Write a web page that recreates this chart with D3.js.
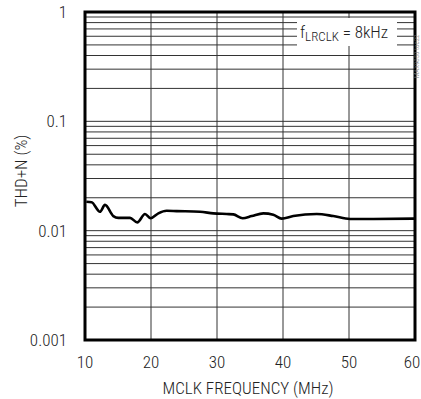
<!DOCTYPE html>
<html><head><meta charset="utf-8">
<script src="https://cdn.jsdelivr.net/npm/d3@7"></script>
<style>
html,body{margin:0;padding:0;background:#fff;}
svg{display:block;}
text{font-family:"Roboto Condensed","Liberation Sans Narrow","Arial Narrow",Roboto,sans-serif;font-stretch:condensed;font-weight:300;fill:#222;}
</style></head>
<body><svg id="c" width="421" height="399"></svg>
<script>
const freqMHz = [10.2, 11.0, 12.27, 13.03, 14.29, 15.05, 16.82, 17.92, 19.09, 19.95, 21.11, 22.38, 23.89, 27.42, 29.44, 31.47, 32.47, 33.89, 35.26, 37.02, 38.53, 39.8, 41.56, 45.11, 47.62, 50.15, 53.68, 59.9];
const thdN = [0.0184, 0.0182, 0.0149, 0.0172, 0.0136, 0.0131, 0.0131, 0.0119, 0.0142, 0.0130, 0.0144, 0.0152, 0.0151, 0.0149, 0.0144, 0.0142, 0.0141, 0.0130, 0.0136, 0.0144, 0.0140, 0.0129, 0.0136, 0.0142, 0.0136, 0.0128, 0.0128, 0.0129];
const xTicks = [10, 20, 30, 40, 50, 60];
const yTicks = [1, 0.1, 0.01, 0.001];
const yTickLabels = ["1", "0.1", "0.01", "0.001"];
const xTitle = "MCLK FREQUENCY (MHz)";
const yTitle = "THD+N (%)";
const noteMain = "f";
const noteSub = "LRCLK";
const noteRest = " = 8kHz";
const watermark = "MAX9850 toc22";

const svg = d3.select("#c");
const L = 85, R = 415, T = 12, B = 340;
const x = d3.scaleLinear().domain([10, 60]).range([L, R]);
const y = d3.scaleLog().domain([0.001, 1]).range([B, T]);

const hLines = [];
for (let d = 0.001; d < 1; d *= 10) for (let m = 1; m <= 9; m++) hLines.push(+(d * m).toPrecision(3));
svg.append("g").selectAll("line").data(hLines).join("line")
  .attr("x1", L).attr("x2", R).attr("y1", d => y(d)).attr("y2", d => y(d))
  .attr("stroke", "#333").attr("stroke-width", 1);
svg.append("g").selectAll("line").data(xTicks.slice(1, -1)).join("line")
  .attr("x1", d => x(d)).attr("x2", d => x(d)).attr("y1", T).attr("y2", B)
  .attr("stroke", "#333").attr("stroke-width", 1);

svg.append("rect").attr("x", 297).attr("y", 18).attr("width", 100).attr("height", 28).attr("fill", "#fff");
const note = svg.append("text").attr("x", 300).attr("y", 38).attr("font-size", 17);
note.append("tspan").text(noteMain);
note.append("tspan").attr("font-size", 13).attr("dy", 3).text(noteSub);
note.append("tspan").attr("dy", -3).text(noteRest);

const line = d3.line().x((d, i) => x(freqMHz[i])).y(d => y(d)).curve(d3.curveMonotoneX);
svg.append("path").attr("d", line(thdN)).attr("fill", "none").attr("stroke", "#000").attr("stroke-width", 2.6).attr("stroke-linejoin", "round");

svg.append("rect").attr("x", L).attr("y", T).attr("width", R - L).attr("height", B - T)
  .attr("fill", "none").attr("stroke", "#000").attr("stroke-width", 3);

svg.append("g").selectAll("text").data(xTicks).join("text")
  .attr("x", d => Math.min(x(d), 412)).attr("y", 368).attr("text-anchor", "middle").attr("font-size", 17).text(d => d);
svg.append("g").selectAll("text").data(yTicks).join("text")
  .attr("x", 67).attr("y", d => y(d) + 6).attr("text-anchor", "end").attr("font-size", 17).text((d, i) => yTickLabels[i]);

svg.append("text").attr("x", 248).attr("y", 394).attr("text-anchor", "middle").attr("font-size", 17).text(xTitle);
svg.append("text").attr("transform", "translate(27,171) rotate(-90)").attr("text-anchor", "middle").attr("font-size", 17).text(yTitle);
svg.append("text").attr("transform", "translate(419,78) rotate(-90)").attr("font-size", 7).style("fill", "#777").text(watermark);
</script></body></html>
